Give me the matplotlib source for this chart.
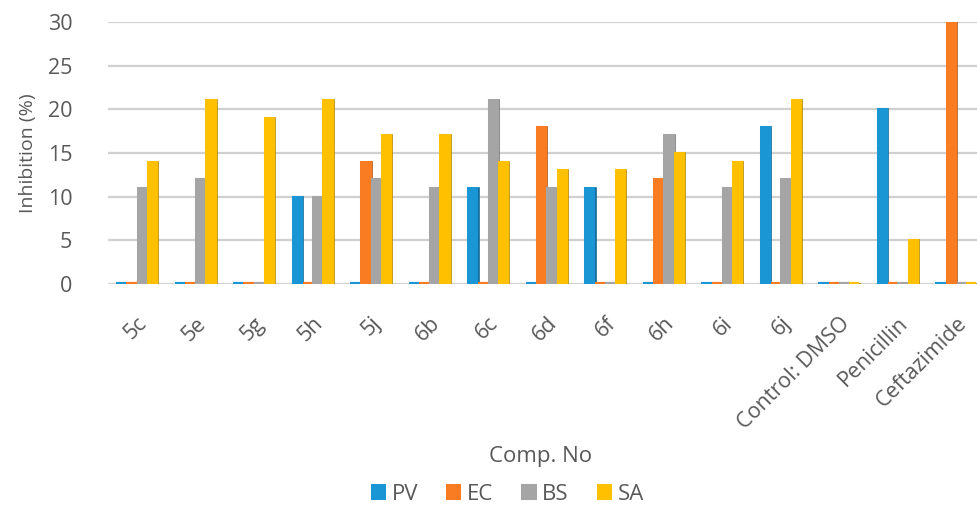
import matplotlib
matplotlib.use("Agg")
import matplotlib.pyplot as plt
import numpy as np
from matplotlib.colors import to_rgb

categories = ["5c", "5e", "5g", "5h", "5j", "6b", "6c", "6d", "6f", "6h", "6i", "6j",
              "Control: DMSO", "Penicillin", "Ceftazimide"]
series_names = ["PV", "EC", "BS", "SA"]
PV = [0, 0, 0, 10, 0, 0, 11, 0, 11, 0, 0, 18, 0, 20, 0]
EC = [0, 0, 0, 0, 14, 0, 0, 18, 0, 12, 0, 0, 0, 0, 30]
BS = [11, 12, 0, 10, 12, 11, 21, 11, 0, 17, 11, 12, 0, 0, 0]
SA = [14, 21, 19, 21, 17, 17, 14, 13, 13, 15, 14, 21, 0, 5, 0]
yticks = [0, 5, 10, 15, 20, 25, 30]

colors = ["#1A96D4", "#F97B22", "#A5A5A5", "#FFC000"]

plt.rcParams['font.family'] = ['Open Sans', 'DejaVu Sans']
fig = plt.figure(figsize=(9.77, 5.20), dpi=100)
ax = fig.add_axes([0.111, 0.454, 0.889, 0.504])

x = np.arange(len(categories))
w = 0.175
side = 0.045
for i, (vals, c) in enumerate(zip([PV, EC, BS, SA], colors)):
    off = (i - 1.5) * w
    dark = tuple(v * 0.72 for v in to_rgb(c))
    ax.bar(x + off, vals, width=w - 0.035, color=c, edgecolor=c, linewidth=2.2,
           zorder=3, label=series_names[i])
    ax.bar(x + off + w / 2 + side / 2 - 0.02, vals, width=side - 0.01, color=dark,
           edgecolor=dark, linewidth=1.2, zorder=2.5)
    # flat base of each column (visible where the value is 0)
    ax.hlines(np.zeros(len(x)), x + off - w / 2, x + off + w / 2, colors=c,
              linewidth=3, zorder=2.8)

ax.set_xlim(-0.48, 14.36)
ax.set_ylim(0, 30)
ax.set_yticks(yticks)
ax.yaxis.grid(True, color="#D0D0D0", linewidth=1.6, zorder=0)
ax.set_axisbelow(True)
for s in ax.spines.values():
    s.set_visible(False)
ax.tick_params(axis='both', length=0)
ax.tick_params(axis='y', labelsize=15.5, labelcolor="#595959", pad=26)
ax.set_xticks(x)
ax.set_xticklabels(categories, rotation=45, ha='right', rotation_mode='anchor',
                   fontsize=15.5, color="#595959")
ax.tick_params(axis='x', pad=21)
ax.set_ylabel("Inhibition (%)", fontsize=14, color="#595959", labelpad=8)

fig.text(0.553, 0.123, "Comp. No", ha='center', va='center', fontsize=16, color="#595959")
leg = fig.legend(loc='center', bbox_to_anchor=(0.52, 0.05), ncol=4, frameon=False,
                 fontsize=16, handlelength=0.55, handleheight=0.55, columnspacing=1.3,
                 handletextpad=0.35, labelcolor="#595959")

fig.savefig("out.png", dpi=100)
